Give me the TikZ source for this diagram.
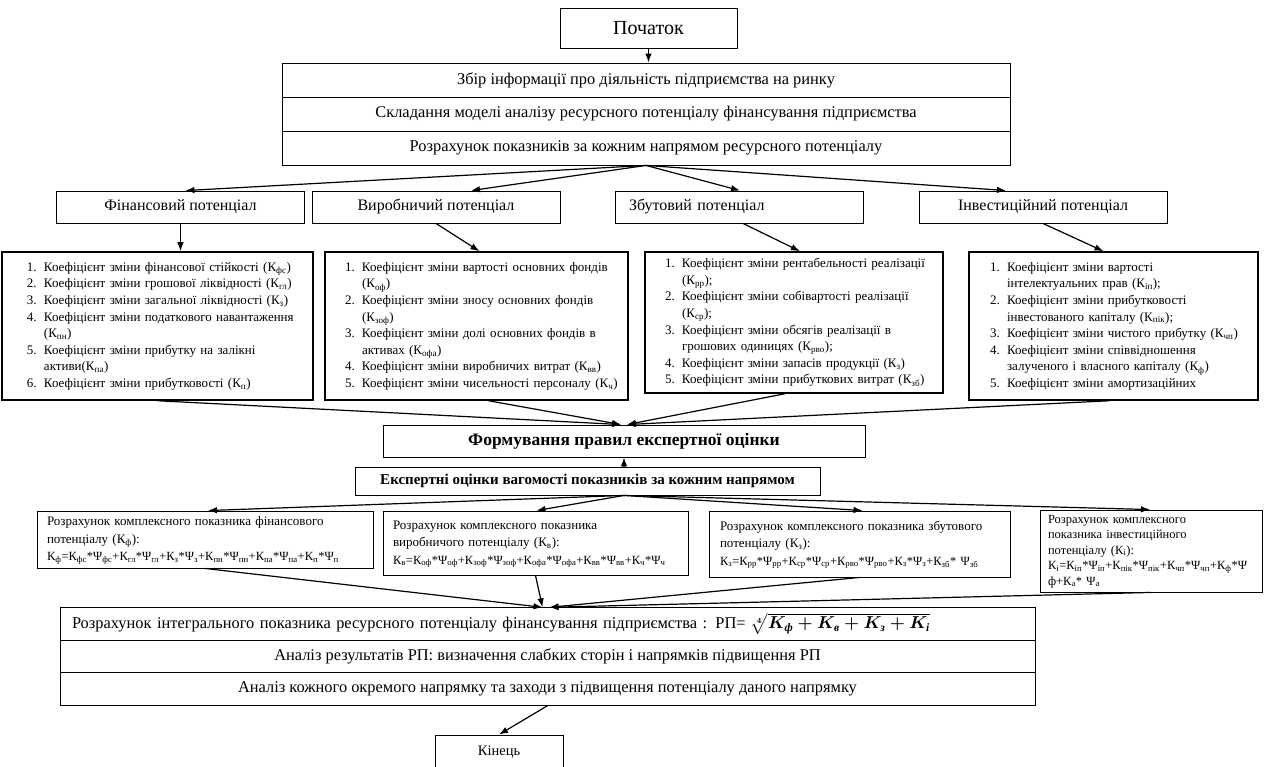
\documentclass[tikz,border=0pt]{standalone}
\usepackage{amsmath}
\usepackage{fontspec}
\setmainfont{Liberation Serif}
\usetikzlibrary{arrows.meta,calc}

% coefficient, weight and list helpers
\newcommand{\coef}[1]{К\textsubscript{#1}}
\newcommand{\wgt}[1]{Ψ\textsubscript{#1}}
\newcommand{\itm}[2]{\makebox[17pt][l]{#1}#2}
\newcommand{\cnt}[1]{\hspace*{17pt}#1}
\newcommand{\ik}[1]{K_{\text{\bfseries\itshape #1}}}
\newcommand{\fml}{\fontsize{12.5}{17.5}\selectfont}

\tikzset{
  stepbox/.style={draw, line width=0.9pt, inner sep=0pt, align=center, font=\fontsize{16.4}{19}\selectfont},
  potbox/.style={stepbox, font=\fontsize{16}{19}\selectfont, minimum width=248pt, minimum height=32pt, text height=11.5pt, text depth=3.5pt},
  listbox/.style={draw, line width=1.5pt, inner ysep=0pt, align=left, font=\fontsize{13}{16.6}\selectfont},
  rezbox/.style={draw, line width=0.9pt, inner ysep=0pt, align=left, font=\fontsize{13}{17.5}\selectfont},
  rowbox/.style={stepbox, minimum width=975pt, minimum height=32.5pt},
  flow/.style={-{Latex[length=9pt,width=6.5pt]}, line width=1.2pt}
}

\begin{document}
\begin{tikzpicture}[x=1pt,y=-1pt]
\useasboundingbox (0,0) rectangle (1266,767);

% Start and preparation
\node[stepbox, minimum width=177pt, minimum height=40pt, font=\fontsize{20}{23}\selectfont] (start) at (648.5,28) {Початок};
\node[stepbox, minimum width=728pt, minimum height=34pt] (collect) at (646,80) {Збір інформації про діяльність підприємства на ринку};
\node[stepbox, minimum width=728pt, minimum height=34pt] (model) at (646,114) {Складання моделі аналізу ресурсного потенціалу фінансування підприємства};
\node[stepbox, minimum width=728pt, minimum height=34pt] (indicators) at (646,148) {Розрахунок показників за кожним напрямом ресурсного потенціалу};

% Four directions
\node[potbox] (finpot) at (180.5,207) {Фінансовий потенціал};
\node[potbox] (vyrpot) at (436,207) {Виробничий потенціал};
\node[potbox, align=left, text width=220pt] (zbutpot) at (739,207) {Збутовий потенціал};
\node[potbox] (invpot) at (1043,207) {Інвестиційний потенціал};

% Indicator lists
\node[listbox, text width=261pt, inner xsep=25pt, minimum height=148pt] (finlst) at (157.5,326) {\begin{tabular}{@{}l@{}}
\itm{1.}{Коефіцієнт зміни фінансової стійкості (\coef{фс})}\\
\itm{2.}{Коефіцієнт зміни грошової ліквідності (\coef{гл})}\\
\itm{3.}{Коефіцієнт зміни загальної ліквідності (\coef{з})}\\
\itm{4.}{Коефіцієнт зміни податкового навантаження}\\
\cnt{(\coef{пн})}\\
\itm{5.}{Коефіцієнт зміни прибутку на залікні}\\
\cnt{активи(\coef{па})}\\
\itm{6.}{Коефіцієнт зміни прибутковості (\coef{п})}
\end{tabular}};
\node[listbox, text width=263pt, inner xsep=20pt, minimum height=148pt] (vyrlst) at (476.5,326) {\begin{tabular}{@{}l@{}}
\itm{1.}{Коефіцієнт зміни вартості основних фондів}\\
\cnt{(\coef{оф})}\\
\itm{2.}{Коефіцієнт зміни зносу основних фондів}\\
\cnt{(\coef{зоф})}\\
\itm{3.}{Коефіцієнт зміни долі основних фондів в}\\
\cnt{активах (\coef{офа})}\\
\itm{4.}{Коефіцієнт зміни виробничих витрат (\coef{вв})}\\
\itm{5.}{Коефіцієнт зміни чисельності персоналу (\coef{ч})}
\end{tabular}};
\node[listbox, text width=258pt, inner xsep=20pt, minimum height=141pt] (zbutlst) at (794,322.5) {\begin{tabular}{@{}l@{}}
\itm{1.}{Коефіцієнт зміни рентабельності реалізації}\\
\cnt{(\coef{рр});}\\
\itm{2.}{Коефіцієнт зміни собівартості реалізації}\\
\cnt{(\coef{ср});}\\
\itm{3.}{Коефіцієнт зміни обсягів реалізації в}\\
\cnt{грошових одиницях (\coef{рво});}\\
\itm{4.}{Коефіцієнт зміни запасів продукції (\coef{з})}\\
\itm{5.}{Коефіцієнт зміни прибуткових витрат (\coef{зб})}
\end{tabular}};
\node[listbox, text width=247pt, inner xsep=21pt, minimum height=148pt] (invlst) at (1113.5,326) {\begin{tabular}{@{}l@{}}
\itm{1.}{Коефіцієнт зміни вартості}\\
\cnt{інтелектуальних прав (\coef{іп});}\\
\itm{2.}{Коефіцієнт зміни прибутковості}\\
\cnt{інвестованого капіталу (\coef{пік});}\\
\itm{3.}{Коефіцієнт зміни чистого прибутку (\coef{чп})}\\
\itm{4.}{Коефіцієнт зміни співвідношення}\\
\cnt{залученого і власного капіталу (\coef{ф})}\\
\itm{5.}{Коефіцієнт зміни амортизаційних}
\end{tabular}};

% Expert estimation
\node[stepbox, minimum width=482pt, minimum height=32pt, font=\bfseries\fontsize{17.5}{20}\selectfont] (rules) at (624,441) {Формування правил експертної оцінки};
\node[stepbox, minimum width=465pt, minimum height=28pt, font=\bfseries\fontsize{15}{18}\selectfont] (expert) at (587.5,481) {Експертні оцінки вагомості показників за кожним напрямом};

% Complex indicators
\node[rezbox, text width=316pt, inner xsep=10pt, minimum height=57pt] (finrez) at (205,539.5) {\begin{tabular}{@{}l@{}}
Розрахунок комплексного показника фінансового\\
потенціалу (\coef{ф}):\\
\fml\coef{ф}=\coef{фс}*\wgt{фс}+\coef{гл}*\wgt{гл}+\coef{з}*\wgt{з}+\coef{пн}*\wgt{пн}+\coef{па}*\wgt{па}+\coef{п}*\wgt{п}
\end{tabular}};
\node[rezbox, text width=285pt, inner xsep=10pt, minimum height=64pt] (vyrrez) at (535.5,543) {\begin{tabular}{@{}l@{}}
Розрахунок комплексного показника\\
виробничого потенціалу (\coef{в}):\\
\fml\coef{в}=\coef{оф}*\wgt{оф}+\coef{зоф}*\wgt{зоф}+\coef{офа}*\wgt{офа}+\coef{вв}*\wgt{вв}+\coef{ч}*\wgt{ч}
\end{tabular}};
\node[rezbox, text width=279pt, inner xsep=11pt, minimum height=66pt] (zbutrez) at (859.5,544) {\begin{tabular}{@{}l@{}}
Розрахунок комплексного показника збутового\\
потенціалу (\coef{з}):\\
\fml\coef{з}=\coef{рр}*\wgt{рр}+\coef{ср}*\wgt{ср}+\coef{рво}*\wgt{рво}+\coef{з}*\wgt{з}+\coef{зб}* \wgt{зб}
\end{tabular}};
\node[rezbox, text width=206pt, inner xsep=8pt, minimum height=82pt, font=\fontsize{12.5}{15.5}\selectfont] (invrez) at (1151,551) {\begin{tabular}{@{}l@{}}
Розрахунок комплексного\\
показника інвестиційного\\
потенціалу (\coef{і}):\\
\coef{і}=\coef{іп}*\wgt{іп}+\coef{пік}*\wgt{пік}+\coef{чп}*\wgt{чп}+\coef{ф}*Ψ\\
ф+\coef{а}* \wgt{а}
\end{tabular}};

% Integral indicator and analysis
\node[rowbox, text width=951pt, inner xsep=12pt, align=left] (integral) at (547.5,624) {Розрахунок інтегрального показника ресурсного потенціалу фінансування підприємства : РП= {\boldmath$\sqrt[4]{\ik{ф}+\ik{в}+\ik{з}+\ik{і}}$}};
\node[rowbox] (results) at (547.5,656.5) {Аналіз результатів РП: визначення слабких сторін і напрямків підвищення РП};
\node[rowbox] (measures) at (547.5,689) {Аналіз кожного окремого напрямку та заходи з підвищення потенціалу даного напрямку};
\node[stepbox, minimum width=128pt, minimum height=34pt, font=\fontsize{14.5}{17}\selectfont] (finish) at (499,752) {Кінець};

% Connectors
\draw[flow] (start.south) -- (start.south |- collect.north);
\draw[flow] (indicators.south) -- ($(finpot.north)+(5,0)$);
\draw[flow] (indicators.south) -- ($(vyrpot.north)+(35,0)$);
\draw[flow] (indicators.south) -- ($(zbutpot.north)+(1,0)$);
\draw[flow] (indicators.south) -- ($(invpot.north)+(-37,0)$);

\draw[flow] (finpot.south) -- (finpot.south |- finlst.north);
\draw[flow] (vyrpot.south) -- ($(vyrlst.north)+(3,0)$);
\draw[flow] ($(zbutpot.south)+(4,0)$) -- ($(zbutlst.north)+(6,0)$);
\draw[flow] (invpot.south) -- ($(invlst.north)+(-10,0)$);

\draw[flow] (finlst.south) -- ($(rules.north)+(-3,0)$);
\draw[flow] ($(vyrlst.south)+(12,0)$) -- ($(rules.north)+(-3,0)$);
\draw[flow] ($(zbutlst.south)+(-9,0)$) -- ($(rules.north)+(3,0)$);
\draw[flow] ($(invlst.south)+(-4,0)$) -- ($(rules.north)+(3,0)$);

\draw[flow] (expert.north -| rules.south) -- (rules.south);
\coordinate (fork) at (expert.south -| rules.south);
\draw[flow] (fork) -- ($(finrez.north)+(3,0)$);
\draw[flow] (fork) -- ($(vyrrez.north)+(1,0)$);
\draw[flow] (fork) -- ($(zbutrez.north)+(3,0)$);
\draw[flow] (fork) -- ($(invrez.north)+(-1,0)$);

\draw[flow] (finrez.south) -- ($(integral.north)+(-5,0)$);
\draw[flow] (vyrrez.south) -- ($(integral.north)+(-5,0)$);
\draw[flow] (zbutrez.south) -- ($(integral.north)+(2,0)$);
\draw[flow] (invrez.south) -- ($(integral.north)+(2,0)$);
\draw[flow] (measures.south) -- (finish.north);
\end{tikzpicture}
\end{document}
